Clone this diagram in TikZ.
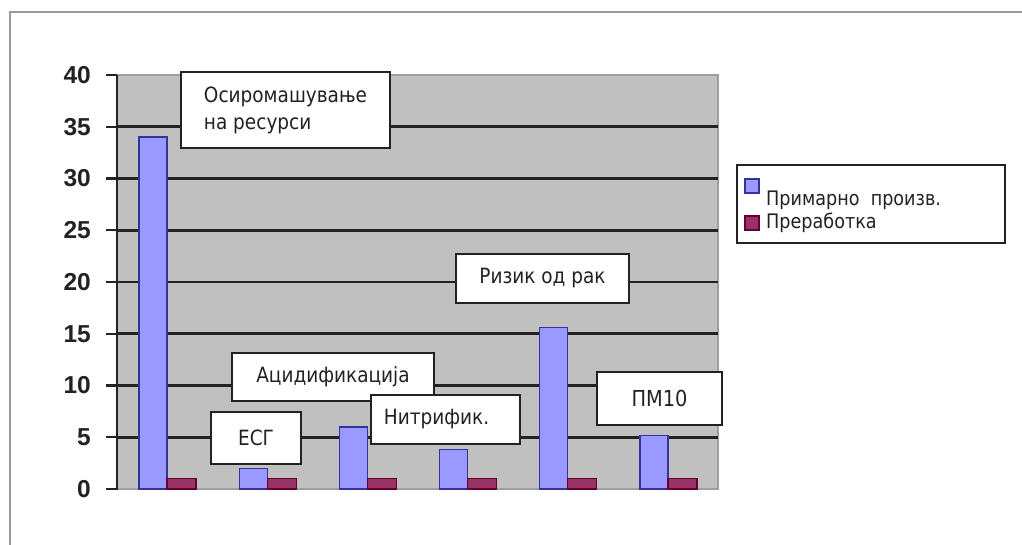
\documentclass[tikz,border=0pt]{standalone}
\usepackage{fontspec}
\setmainfont{DejaVu Sans}[FakeStretch=0.88]
\newfontfamily\axisfont{Liberation Sans}
\definecolor{plotgray}{HTML}{C0C0C0}
\definecolor{barblue}{HTML}{9999FF}
\definecolor{bluedge}{HTML}{333399}
\definecolor{barred}{HTML}{993366}
\definecolor{rededge}{HTML}{660033}
\definecolor{ink}{HTML}{222222}
\definecolor{framegray}{HTML}{9A9A9A}
\begin{document}
\begin{tikzpicture}[x=1pt,y=-1pt,
  lbl/.style={draw=ink, line width=1.5pt, fill=white, text=ink, font=\fontsize{21}{27}\selectfont, inner sep=0pt},
  bluebar/.style={fill=barblue, draw=bluedge, line width=1.2pt},
  redbar/.style={fill=barred, draw=rededge, line width=1.2pt},
  gridl/.style={line width=2.6pt, draw=ink},
  ylab/.style={anchor=east, inner sep=0pt, text=ink, font=\axisfont\bfseries\fontsize{24.5}{24.5}\selectfont},
  legtext/.style={anchor=west, inner sep=0pt, text=ink, font=\fontsize{20}{24}\selectfont}]
\useasboundingbox (0,0) rectangle (1022,545);
% outer frame
\draw[line width=2pt, framegray] (10,545) -- (10,12) -- (1022,12);
% plot area
\draw[fill=plotgray, draw=gray!75, line width=1.5pt] (117,75) rectangle (718,489);
\foreach \v in {5,10,...,35}{
  \draw[gridl] (117,{489-10.35*\v}) -- (718,{489-10.35*\v});
}
% axis and ticks
\draw[line width=2.6pt, ink] (117,75) -- (117,490);
\foreach \v in {0,5,...,40}{
  \draw[line width=2.4pt, ink] (106,{489-10.35*\v}) -- (117,{489-10.35*\v});
  \node[ylab] (y\v) at (91,{489-10.35*\v}) {\v};
}
% bars
\foreach \i/\b in {0/34,1/2,2/6,3/3.8,4/15.6,5/5.2}{
  \pgfmathsetmacro\c{117+100.17*(\i+0.5)}
  \draw[bluebar] (\c-28,489) rectangle (\c,{489-10.35*\b});
  \draw[redbar] (\c,489) rectangle (\c+29,{489-10.35});
}
% labels
\node[lbl, minimum width=209pt, minimum height=76pt, align=left] (osir) at (285.5,110) {Осиромашување\\на ресурси};
\node[lbl, minimum width=173pt, minimum height=49pt] (rizik) at (542.5,278.5) {Ризик од рак};
\node[lbl, minimum width=202pt, minimum height=48pt] (acid) at (333,377) {Ацидификација};
\node[lbl, minimum width=90pt, minimum height=52pt] (esg) at (256,438) {ЕСГ};
\node[lbl, minimum width=149pt, minimum height=49pt] (nitr) at (445.5,419.5) {Нитрифик.\hspace*{18pt}};
\node[lbl, minimum width=125pt, minimum height=53pt, font=\fontsize{22}{26}\selectfont] (pm) at (659.5,398.5) {ПМ10};
% legend
\node[draw=ink, line width=1.8pt, fill=white, minimum width=268pt, minimum height=78pt, inner sep=0pt] (legend) at (871,204) {};
\draw[fill=barblue, draw=bluedge, line width=1.2pt] (745,179) rectangle (759,193);
\draw[fill=barred, draw=rededge, line width=1.2pt] (745,216) rectangle (759,230);
\node[legtext] (lt1) at (766,200) {Примарно\ \ произв.};
\node[legtext] (lt2) at (766,223) {Преработка};
\end{tikzpicture}
\end{document}
